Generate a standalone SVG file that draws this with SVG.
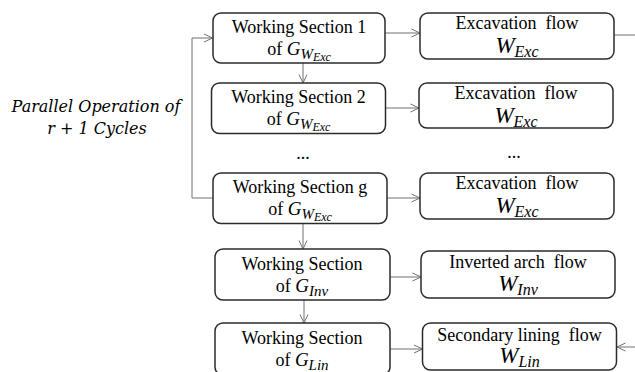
<svg xmlns="http://www.w3.org/2000/svg" width="635" height="372" viewBox="0 0 635 372">
<defs>
<marker id="arr" viewBox="0 0 10 10" refX="9.5" refY="5" markerWidth="10" markerHeight="10" markerUnits="userSpaceOnUse" orient="auto">
<path d="M1,1 L9.5,5 L1,9" fill="none" stroke="#707070" stroke-width="1"/>
</marker>
<style>
.box{fill:#fff;stroke:#2b2b2b;stroke-width:1.5}
.t{font-family:'Liberation Serif',serif;font-size:18px;fill:#000;text-anchor:middle;white-space:pre}
.m{font-family:'Liberation Serif',serif;font-style:italic;fill:#000}
.lbl{font-family:'DejaVu Serif',serif;font-style:italic;font-size:16px;fill:#000;text-anchor:middle}
.c{fill:none;stroke:#707070;stroke-width:1}
</style>
</defs>
<rect width="635" height="372" fill="#fff"/>

<g id="label">
<text class="lbl" x="96" y="112">Parallel Operation of</text>
<text class="lbl" x="97" y="134">r + 1 Cycles</text>
</g>

<g id="connectors">
<polyline class="c" points="213,198 192,198 192,38 212.5,38" marker-end="url(#arr)"/>
<line class="c" x1="385" y1="33" x2="420" y2="33" marker-end="url(#arr)"/>
<line class="c" x1="614" y1="35" x2="635" y2="35"/>
<line class="c" x1="385" y1="108" x2="419" y2="108" marker-end="url(#arr)"/>
<line class="c" x1="387" y1="198" x2="420" y2="198" marker-end="url(#arr)"/>
<line class="c" x1="390" y1="277" x2="421" y2="277" marker-end="url(#arr)"/>
<line class="c" x1="390" y1="349" x2="422.5" y2="349" marker-end="url(#arr)"/>
<line class="c" x1="635" y1="347" x2="617" y2="347" marker-end="url(#arr)"/>
<line class="c" x1="303" y1="63" x2="303" y2="83" marker-end="url(#arr)"/>
<line class="c" x1="303" y1="224" x2="303" y2="249" marker-end="url(#arr)"/>
<line class="c" x1="304" y1="300" x2="304" y2="323" marker-end="url(#arr)"/>
</g>

<g id="ws1">
<rect class="box" x="213" y="13" width="172" height="50" rx="8"/>
<text class="t" x="299" y="33">Working Section 1</text>
<text class="t" x="299" y="55">of <tspan class="m" font-size="19">G</tspan><tspan class="m" font-size="15" dy="4">W</tspan><tspan class="m" font-size="12" dy="2">Exc</tspan></text>
</g>
<g id="ws2">
<rect class="box" x="211.5" y="83" width="174" height="50.5" rx="8"/>
<text class="t" x="298.5" y="103">Working Section 2</text>
<text class="t" x="298.5" y="125">of <tspan class="m" font-size="19">G</tspan><tspan class="m" font-size="15" dy="4">W</tspan><tspan class="m" font-size="12" dy="2">Exc</tspan></text>
</g>
<g id="dots">
<text class="t" x="303" y="159">...</text>
<text class="t" x="514" y="158">...</text>
</g>
<g id="wsg">
<rect class="box" x="213" y="173" width="174" height="50.5" rx="8"/>
<text class="t" x="300" y="193">Working Section g</text>
<text class="t" x="300" y="215">of <tspan class="m" font-size="19">G</tspan><tspan class="m" font-size="15" dy="4">W</tspan><tspan class="m" font-size="12" dy="2">Exc</tspan></text>
</g>
<g id="wsinv">
<rect class="box" x="215" y="249" width="175" height="51" rx="8"/>
<text class="t" x="302" y="270">Working Section</text>
<text class="t" x="302" y="292">of <tspan class="m" font-size="19">G</tspan><tspan class="m" font-size="15" dy="4">Inv</tspan></text>
</g>
<g id="wslin">
<rect class="box" x="215" y="323" width="175" height="52" rx="8"/>
<text class="t" x="302" y="344">Working Section</text>
<text class="t" x="302" y="366">of <tspan class="m" font-size="19">G</tspan><tspan class="m" font-size="15" dy="4">Lin</tspan></text>
</g>

<g id="exc1">
<rect class="box" x="420" y="13" width="194" height="46" rx="8"/>
<text class="t" x="517" y="29">Excavation  flow</text>
<text class="t" x="517" y="53"><tspan class="m" font-size="23">W</tspan><tspan class="m" font-size="16" dy="4">Exc</tspan></text>
</g>
<g id="exc2">
<rect class="box" x="419" y="83" width="194" height="45" rx="8"/>
<text class="t" x="516" y="99">Excavation  flow</text>
<text class="t" x="516" y="123"><tspan class="m" font-size="23">W</tspan><tspan class="m" font-size="16" dy="4">Exc</tspan></text>
</g>
<g id="excg">
<rect class="box" x="420" y="173" width="194" height="46" rx="8"/>
<text class="t" x="517" y="189">Excavation  flow</text>
<text class="t" x="517" y="213"><tspan class="m" font-size="23">W</tspan><tspan class="m" font-size="16" dy="4">Exc</tspan></text>
</g>
<g id="inv">
<rect class="box" x="421" y="251" width="194" height="47" rx="8"/>
<text class="t" x="518" y="268">Inverted arch  flow</text>
<text class="t" x="518" y="291"><tspan class="m" font-size="23">W</tspan><tspan class="m" font-size="16" dy="4">Inv</tspan></text>
</g>
<g id="lin">
<rect class="box" x="422.5" y="323" width="194" height="47" rx="8"/>
<text class="t" x="519.5" y="341">Secondary lining  flow</text>
<text class="t" x="519.5" y="363"><tspan class="m" font-size="23">W</tspan><tspan class="m" font-size="16" dy="4">Lin</tspan></text>
</g>
</svg>
